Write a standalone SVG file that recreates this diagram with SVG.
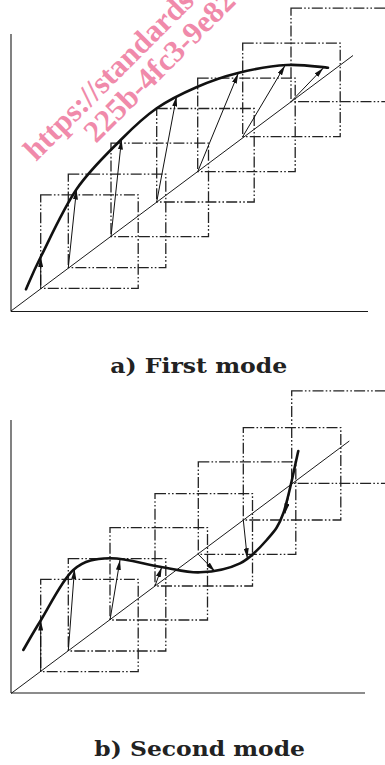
<svg xmlns="http://www.w3.org/2000/svg" width="385" height="765" viewBox="0 0 385 765">
<style>
.ax{stroke:#1a1a1a;stroke-width:1.1;fill:none}
.dg{stroke:#1a1a1a;stroke-width:1;fill:none}
.bx{stroke:#222;stroke-width:1.3;fill:none;stroke-dasharray:11 2.2 1.6 2.2 1.6 2.2}
.cv{stroke:#111;stroke-width:2.6;fill:none;stroke-linecap:round}
.ar{stroke:#111;stroke-width:1;fill:none;marker-end:url(#ah)}
.lbl{font-family:"DejaVu Serif",serif;font-weight:bold;font-size:21px;fill:#222;text-anchor:middle}
.wm{font-family:"Liberation Serif",serif;font-weight:bold;font-size:31px;fill:#f08aaa}
</style>
<defs>
<marker id="ah" viewBox="0 0 10 5" refX="10" refY="2.5" markerWidth="10" markerHeight="5" markerUnits="userSpaceOnUse" orient="auto">
<path d="M0,0 L10,2.5 L0,5 z" fill="#111"/>
</marker>
</defs>

<g id="panel-a">
<g id="a-axes">
<line class="ax" x1="11" y1="34" x2="11" y2="311.5"/>
<line class="ax" x1="11" y1="311.5" x2="368" y2="311.5"/>
<line class="dg" x1="11" y1="311" x2="353" y2="55.5"/>
</g>
<g id="a-boxes">
<rect class="bx" x="40.7" y="194.8" width="97.5" height="93.5"/>
<rect class="bx" x="68.3" y="174.2" width="97.5" height="93.5"/>
<rect class="bx" x="111" y="143.2" width="97.5" height="93.5"/>
<rect class="bx" x="156.7" y="108.5" width="97.5" height="93.5"/>
<rect class="bx" x="197.7" y="78.2" width="97.5" height="93.5"/>
<rect class="bx" x="242.7" y="43.2" width="97.5" height="93.5"/>
<rect class="bx" x="291" y="8.2" width="97.5" height="93.5"/>
</g>
<path id="a-curve" class="cv" d="M26,289.3 C28.45,283.9 32.25,273.7 40.7,257 C49.15,240.3 63.2,208.7 76.7,189 C90.2,169.3 108.4,152.5 121.7,139 C135,125.6 144.2,117 156.7,108.3 C169.250,99.6 183.45,92.9 197,87 C210.55,81.1 223,76.7 238,73 C253,69.3 272,65.9 287,65 C302,64.1 321.2,67.25 328,67.7"/>
<g id="a-connectors">
<line class="ar" x1="40.7" y1="288.3" x2="40.7" y2="257"/>
<line class="ar" x1="68.3" y1="267.7" x2="76.5" y2="189.5"/>
<line class="ar" x1="111" y1="236.7" x2="121.5" y2="139.5"/>
<line class="ar" x1="156.7" y1="202" x2="176.5" y2="96.5"/>
<line class="ar" x1="197.7" y1="171.7" x2="238.2" y2="73.5"/>
<line class="ar" x1="242.7" y1="136.7" x2="285" y2="65.5"/>
<line class="ar" x1="291" y1="101.7" x2="323.3" y2="68"/>
</g>
<text class="lbl" x="198.7" y="373.3" textLength="177" lengthAdjust="spacingAndGlyphs">a) First mode</text>
</g>

<g id="panel-b">
<g id="b-axes">
<line class="ax" x1="11" y1="420" x2="11" y2="693"/>
<line class="ax" x1="11" y1="693" x2="365" y2="693"/>
<line class="dg" x1="11" y1="693.5" x2="349.3" y2="441"/>
</g>
<g id="b-boxes">
<rect class="bx" x="40.7" y="579.3" width="97.5" height="92.4"/>
<rect class="bx" x="68.3" y="558.6" width="97.5" height="92.4"/>
<rect class="bx" x="110" y="527.6" width="97.5" height="92.4"/>
<rect class="bx" x="155" y="493.6" width="97.5" height="92.4"/>
<rect class="bx" x="198.3" y="461.9" width="97.5" height="92.4"/>
<rect class="bx" x="243.3" y="427.6" width="97.5" height="92.4"/>
<rect class="bx" x="291.7" y="390.9" width="97.5" height="92.4"/>
</g>
<path id="b-curve" class="cv" d="M23.3,650 C26.25,645 32.67,633.3 41,620 C49.33,606.7 61.8,580.3 73.3,570 C84.8,559.7 95.55,558.85 110,558.3 C124.45,557.75 145,564.4 160,566.7 C175,569 186.67,572.87 200,572.3 C213.33,571.73 228.9,568.7 240,563.3 C251.1,557.9 259.5,548.3 266.7,540 C273.9,531.7 278.03,528.1 283.3,513.3 C288.57,498.5 295.8,461.4 298.3,451"/>
<g id="b-connectors">
<line class="ar" x1="40.7" y1="671.7" x2="40.7" y2="620.5"/>
<line class="ar" x1="68.3" y1="651" x2="74.5" y2="569"/>
<line class="ar" x1="110" y1="620" x2="120" y2="560"/>
<line class="ar" x1="155" y1="586" x2="161.7" y2="567.3"/>
<line class="ar" x1="198.3" y1="554.3" x2="215" y2="571.5"/>
<line class="ar" x1="243.3" y1="520" x2="247.3" y2="558.3"/>
<line class="ar" x1="289" y1="494" x2="285" y2="513.5"/>
</g>
<text class="lbl" x="199.7" y="756" textLength="210.7" lengthAdjust="spacingAndGlyphs">b) Second mode</text>
</g>

<g id="watermark">
<text class="wm" transform="translate(36,162) rotate(-45)">https://standards</text>
<text class="wm" transform="translate(96,144) rotate(-45)">225b-4fc3-9e82</text>
</g>
</svg>
